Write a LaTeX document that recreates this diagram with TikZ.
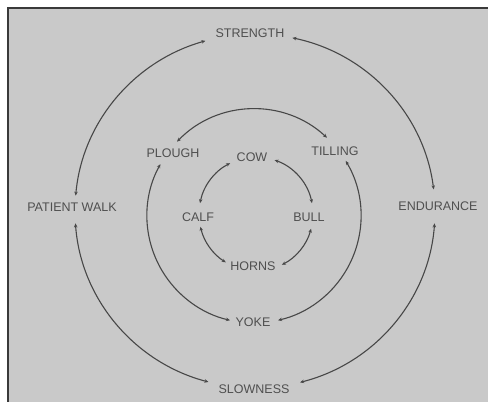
\documentclass[tikz,border=0pt]{standalone}
\usepackage{fontspec}
\setmainfont{Liberation Sans}
\usetikzlibrary{arrows.meta}
\definecolor{bg}{HTML}{C9C9C9}
\definecolor{ink}{HTML}{474747}
\definecolor{txt}{HTML}{4F4F4F}
\definecolor{edge}{HTML}{3A3A3A}
\tikzset{
  lbl/.style={text=txt, font=\fontsize{12.5}{14}\selectfont, inner sep=1pt},
  conn/.style={draw=ink, line width=1.1pt, {Stealth[length=4pt,width=3.5pt]}-{Stealth[length=4pt,width=3.5pt]}}
}
\begin{document}
\begin{tikzpicture}[x=1pt,y=1pt]
\useasboundingbox (0,0) rectangle (488,402);
\fill[white] (0,0) rectangle (488,402);
\fill[bg] (8,0) rectangle (488,394);
\draw[edge, line width=2pt] (8,0) -- (8,394) -- (488,394);

% centres
\coordinate (Co) at (255,191);
\coordinate (Cm) at (254,186);
\coordinate (Ci) at (256,188);

% labels
\node[lbl] (strength) at (250,369) {STRENGTH};
\node[lbl] (walk) at (72,195) {PATIENT WALK};
\node[lbl] (endur) at (438,196) {ENDURANCE};
\node[lbl] (slow) at (254,13) {SLOWNESS};
\node[lbl] (plough) at (173,249) {PLOUGH};
\node[lbl] (tilling) at (335,251) {TILLING};
\node[lbl] (yoke) at (253,80) {YOKE};
\node[lbl] (cow) at (252,245) {COW};
\node[lbl] (calf) at (198,185) {CALF};
\node[lbl] (bull) at (309,185) {BULL};
\node[lbl] (horns) at (253,136) {HORNS};

% outer ring end points
\coordinate (oWt) at ([shift={(175:180pt and 177pt)}]Co);
\coordinate (oEt) at ([shift={(7:180pt and 177pt)}]Co);
\coordinate (oWb) at ([shift={(184:180pt and 177pt)}]Co);
\coordinate (oEb) at ([shift={(-4:180pt and 177pt)}]Co);

\draw[conn] (oWt) arc[start angle=175, end angle=106, x radius=180pt, y radius=177pt];
\draw[conn] (oEt) arc[start angle=7, end angle=78, x radius=180pt, y radius=177pt];
\draw[conn] (oWb) arc[start angle=184, end angle=255, x radius=180pt, y radius=177pt];
\draw[conn] (oEb) arc[start angle=-4, end angle=-75.5, x radius=180pt, y radius=177pt];

% middle ring
\coordinate (mPt) at ([shift={(136:107pt)}]Cm);
\coordinate (mPb) at ([shift={(151:107pt)}]Cm);
\coordinate (mTb) at ([shift={(31:107pt)}]Cm);

\draw[conn] (mPt) arc[start angle=136, end angle=47, radius=107pt];
\draw[conn] (mPb) arc[start angle=151, end angle=257, radius=107pt];
\draw[conn] (mTb) arc[start angle=31, end angle=-77, radius=107pt];

% inner ring
\coordinate (iCt) at ([shift={(169:57pt)}]Ci);
\coordinate (iWr) at ([shift={(71:57pt)}]Ci);
\coordinate (iCb) at ([shift={(193:57pt)}]Ci);
\coordinate (iBb) at ([shift={(-15:57pt)}]Ci);

\draw[conn] (iCt) arc[start angle=169, end angle=117, radius=57pt];
\draw[conn] (iWr) arc[start angle=71, end angle=11, radius=57pt];
\draw[conn] (iCb) arc[start angle=193, end angle=238, radius=57pt];
\draw[conn] (iBb) arc[start angle=-15, end angle=-63, radius=57pt];
\end{tikzpicture}
\end{document}
